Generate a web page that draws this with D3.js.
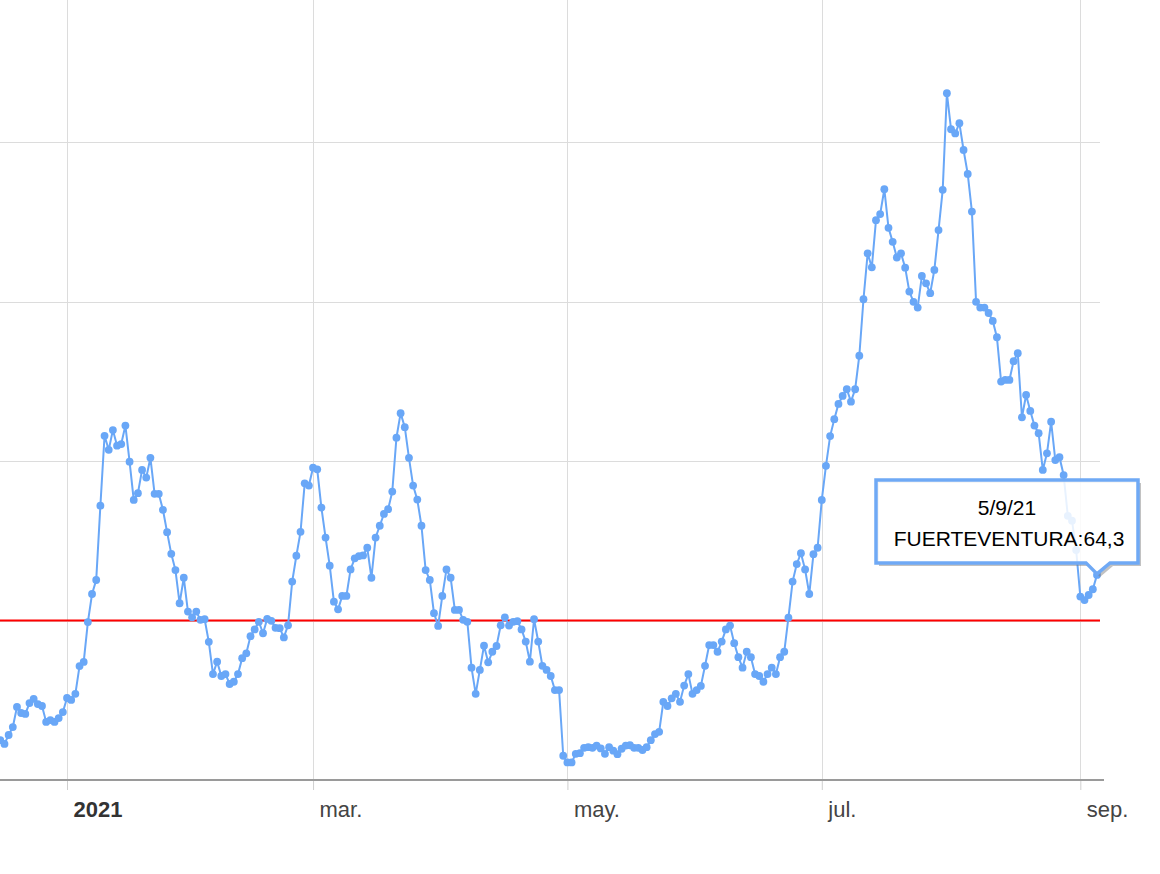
<!DOCTYPE html>
<html>
<head>
<meta charset="utf-8">
<script src="https://cdn.jsdelivr.net/npm/d3@7"></script>
<style>
  body { margin: 0; background: #fff; }
  text { font-family: Arial, "Liberation Sans", sans-serif; }
</style>
</head>
<body>
<div id="my_chart"></div>
<script>
// series name and first day of the daily series
var seriesName = "FUERTEVENTURA"
var firstDay = "2020-12-16"

// daily values, one per day starting on firstDay (16/12/20 -> 5/9/21)
var values = [
  12.5, 11.3, 14.1, 16.6, 22.9, 21.0, 20.7, 24.1, 25.4, 23.8, 23.2, 18.2, 18.8, 18.2, 19.4, 21.3,
  25.7, 25.1, 27.0, 35.7, 37.0, 49.5, 58.3, 62.7, 86.0, 107.9, 103.5, 109.7, 104.8, 105.3, 111.1, 99.8,
  87.8, 89.9, 97.2, 94.8, 101.0, 89.7, 89.7, 84.7, 77.7, 70.9, 65.8, 55.4, 63.4, 52.8, 51.0, 52.8,
  50.2, 50.4, 43.3, 33.2, 37.1, 32.6, 33.2, 30.1, 30.8, 33.2, 38.2, 39.7, 45.1, 47.2, 49.6, 46.0,
  50.5, 49.9, 47.7, 47.6, 44.7, 48.5, 62.2, 70.3, 77.8, 93.0, 92.3, 97.9, 97.4, 85.4, 76.0, 67.2,
  55.9, 53.5, 57.7, 57.7, 66.0, 69.5, 70.2, 70.4, 72.8, 63.4, 76.0, 79.7, 83.4, 84.9, 90.4, 107.3,
  115.0, 110.6, 101.0, 92.3, 87.9, 79.7, 65.8, 62.7, 52.3, 48.3, 57.7, 66.0, 63.4, 53.3, 53.3, 50.2,
  49.6, 35.2, 27.0, 34.5, 42.1, 36.9, 40.2, 42.0, 48.5, 51.0, 48.4, 49.6, 49.8, 47.2, 43.4, 37.1,
  50.4, 43.4, 35.8, 34.5, 32.6, 28.2, 28.2, 7.6, 5.5, 5.5, 8.2, 8.4, 10.1, 10.3, 10.1, 10.8,
  9.9, 8.2, 10.3, 9.2, 8.1, 9.8, 10.8, 10.9, 10.1, 10.1, 9.4, 10.3, 12.5, 14.4, 15.1, 24.5,
  23.2, 25.6, 27.0, 24.5, 29.6, 33.2, 27.0, 28.2, 29.5, 35.8, 42.3, 42.3, 40.2, 43.4, 47.2, 48.4,
  42.9, 38.5, 35.2, 40.2, 38.5, 33.2, 32.6, 30.8, 33.2, 35.2, 33.2, 38.5, 40.2, 50.9, 62.2, 67.7,
  71.1, 66.0, 58.3, 70.8, 72.8, 87.8, 98.5, 107.8, 113.1, 117.9, 120.4, 122.5, 118.6, 122.5, 133.0, 150.7,
  165.1, 160.7, 175.5, 177.4, 185.2, 173.1, 168.7, 163.8, 165.1, 160.6, 153.1, 149.9, 148.1, 158.0, 155.7, 152.6,
  159.9, 172.4, 185.0, 215.3, 204.0, 202.7, 205.9, 197.5, 190.0, 178.2, 149.9, 148.1, 148.1, 146.4, 143.9, 138.8,
  124.9, 125.4, 125.4, 131.3, 133.8, 113.7, 120.7, 115.7, 111.1, 108.7, 97.2, 102.4, 112.3, 100.3, 101.2, 95.6,
  82.8, 81.3, 72.1, 57.5, 56.4, 58.0, 59.8, 64.3
]

// axis ticks
var tickDates = ["2021-01-01", "2021-03-01", "2021-05-01", "2021-07-01", "2021-09-01"]
var tickLabels = ["2021", "mar.", "may.", "jul.", "sep."]

// horizontal gridlines and threshold line
var gridValues = [50, 100, 150, 200]
var threshold = 50

// set the dimensions of the graph
var width = 1160
var height = 874
var plotRight = 1100
var baseY = 780

var svg = d3.select("#my_chart")
    .append("svg")
    .attr("width", width)
    .attr("height", height)
    .style("display", "block")

svg.append("rect").attr("width", width).attr("height", height).attr("fill", "#fff")

var parse = d3.timeParse("%Y-%m-%d")
var start = parse(firstDay)
var data = values.map(function(v, i) {
    return { date: d3.timeDay.offset(start, i), value: v }
})
var last = data[data.length - 1]

// scales
var x = d3.scaleTime()
    .domain([start, last.date])
    .range([0.3, 1097])

var y = d3.scaleLinear()
    .domain([0, 250])
    .range([baseY, baseY - 797.5])

// vertical gridlines
svg.append("g")
    .selectAll("line")
    .data(tickDates)
    .enter()
    .append("line")
    .attr("x1", function(d) { return Math.round(x(parse(d))) + 0.5 })
    .attr("x2", function(d) { return Math.round(x(parse(d))) + 0.5 })
    .attr("y1", 0)
    .attr("y2", baseY)
    .style("stroke", "#dcdcdc")
    .style("stroke-width", 1)

// horizontal gridlines
svg.append("g")
    .selectAll("line")
    .data(gridValues)
    .enter()
    .append("line")
    .attr("x1", 0)
    .attr("x2", plotRight)
    .attr("y1", function(d) { return Math.round(y(d)) + 0.5 })
    .attr("y2", function(d) { return Math.round(y(d)) + 0.5 })
    .style("stroke", "#dcdcdc")
    .style("stroke-width", 1)

// red threshold line
svg.append("line")
    .attr("x1", 0)
    .attr("x2", plotRight)
    .attr("y1", y(threshold))
    .attr("y2", y(threshold))
    .style("stroke", "#ff0000")
    .style("stroke-width", 2)

// x axis
var xAxis = svg.append("g")
    .attr("transform", "translate(0," + baseY + ")")
    .call(d3.axisBottom(x)
        .tickValues(tickDates.map(parse))
        .tickFormat(function(d, i) { return tickLabels[i] })
        .tickSize(10)
        .tickSizeOuter(0))

xAxis.select(".domain").remove()
xAxis.append("line")
    .attr("x1", 0)
    .attr("x2", plotRight + 4)
    .attr("y1", 0)
    .attr("y2", 0)
    .style("stroke", "#9a9a9a")
    .style("stroke-width", 2)
xAxis.selectAll(".tick line").style("stroke", "#cfcfcf")
xAxis.selectAll(".tick text")
    .attr("y", 37)
    .attr("dy", 0)
    .attr("x", 6)
    .style("text-anchor", "start")
    .style("font-size", "22px")
    .style("fill", function(d, i) { return i == 0 ? "#333" : "#444" })
    .style("font-weight", function(d, i) { return i == 0 ? "bold" : "normal" })

// line
var lineColor = "#69a7f7"
svg.append("path")
    .datum(data)
    .attr("fill", "none")
    .attr("stroke", lineColor)
    .attr("stroke-width", 2)
    .attr("d", d3.line()
        .x(function(d) { return x(d.date) })
        .y(function(d) { return y(d.value) }))

// points
svg.append("g")
    .selectAll("circle")
    .data(data)
    .enter()
    .append("circle")
    .attr("cx", function(d) { return x(d.date) })
    .attr("cy", function(d) { return y(d.value) })
    .attr("r", 3.9)
    .style("fill", lineColor)

// tooltip for the last point
var tipX = x(last.date)
var tipY = y(last.value) - 1
var boxR = tipX + 41
var boxL = boxR - 262
var boxB = tipY - 11
var boxT = boxB - 83

function tipShape(dx, dy) {
    return "M" + (boxL + dx) + "," + (boxT + dy) +
        "H" + (boxR + dx) + "V" + (boxB + dy) +
        "H" + (tipX + 13 + dx) + "L" + (tipX + dx) + "," + (tipY + dy) +
        "L" + (tipX - 11 + dx) + "," + (boxB + dy) +
        "H" + (boxL + dx) + "Z"
}

var tooltip = svg.append("g")
// shadow only outside the box (evenodd cut-out)
tooltip.append("path")
    .attr("d", tipShape(3, 3) + tipShape(0, 0))
    .attr("fill-rule", "evenodd")
    .style("fill", "#777")
    .style("opacity", 0.45)
tooltip.append("path")
    .attr("d", tipShape(0, 0))
    .style("fill", "#fff")
    .style("fill-opacity", 0.85)
    .style("stroke", "#6fa9f5")
    .style("stroke-width", 3.5)

var fmtDate = d3.timeFormat("%-d/%-m/%y")
tooltip.append("text")
    .attr("x", (boxL + boxR) / 2)
    .attr("y", boxT + 35)
    .style("text-anchor", "middle")
    .style("font-size", "21px")
    .style("fill", "#000")
    .text(fmtDate(last.date))
tooltip.append("text")
    .attr("x", (boxL + boxR) / 2 + 2)
    .attr("y", boxT + 66)
    .style("text-anchor", "middle")
    .style("font-size", "21px")
    .style("fill", "#000")
    .text(seriesName + ":" + String(last.value).replace(".", ","))
</script>
</body>
</html>
